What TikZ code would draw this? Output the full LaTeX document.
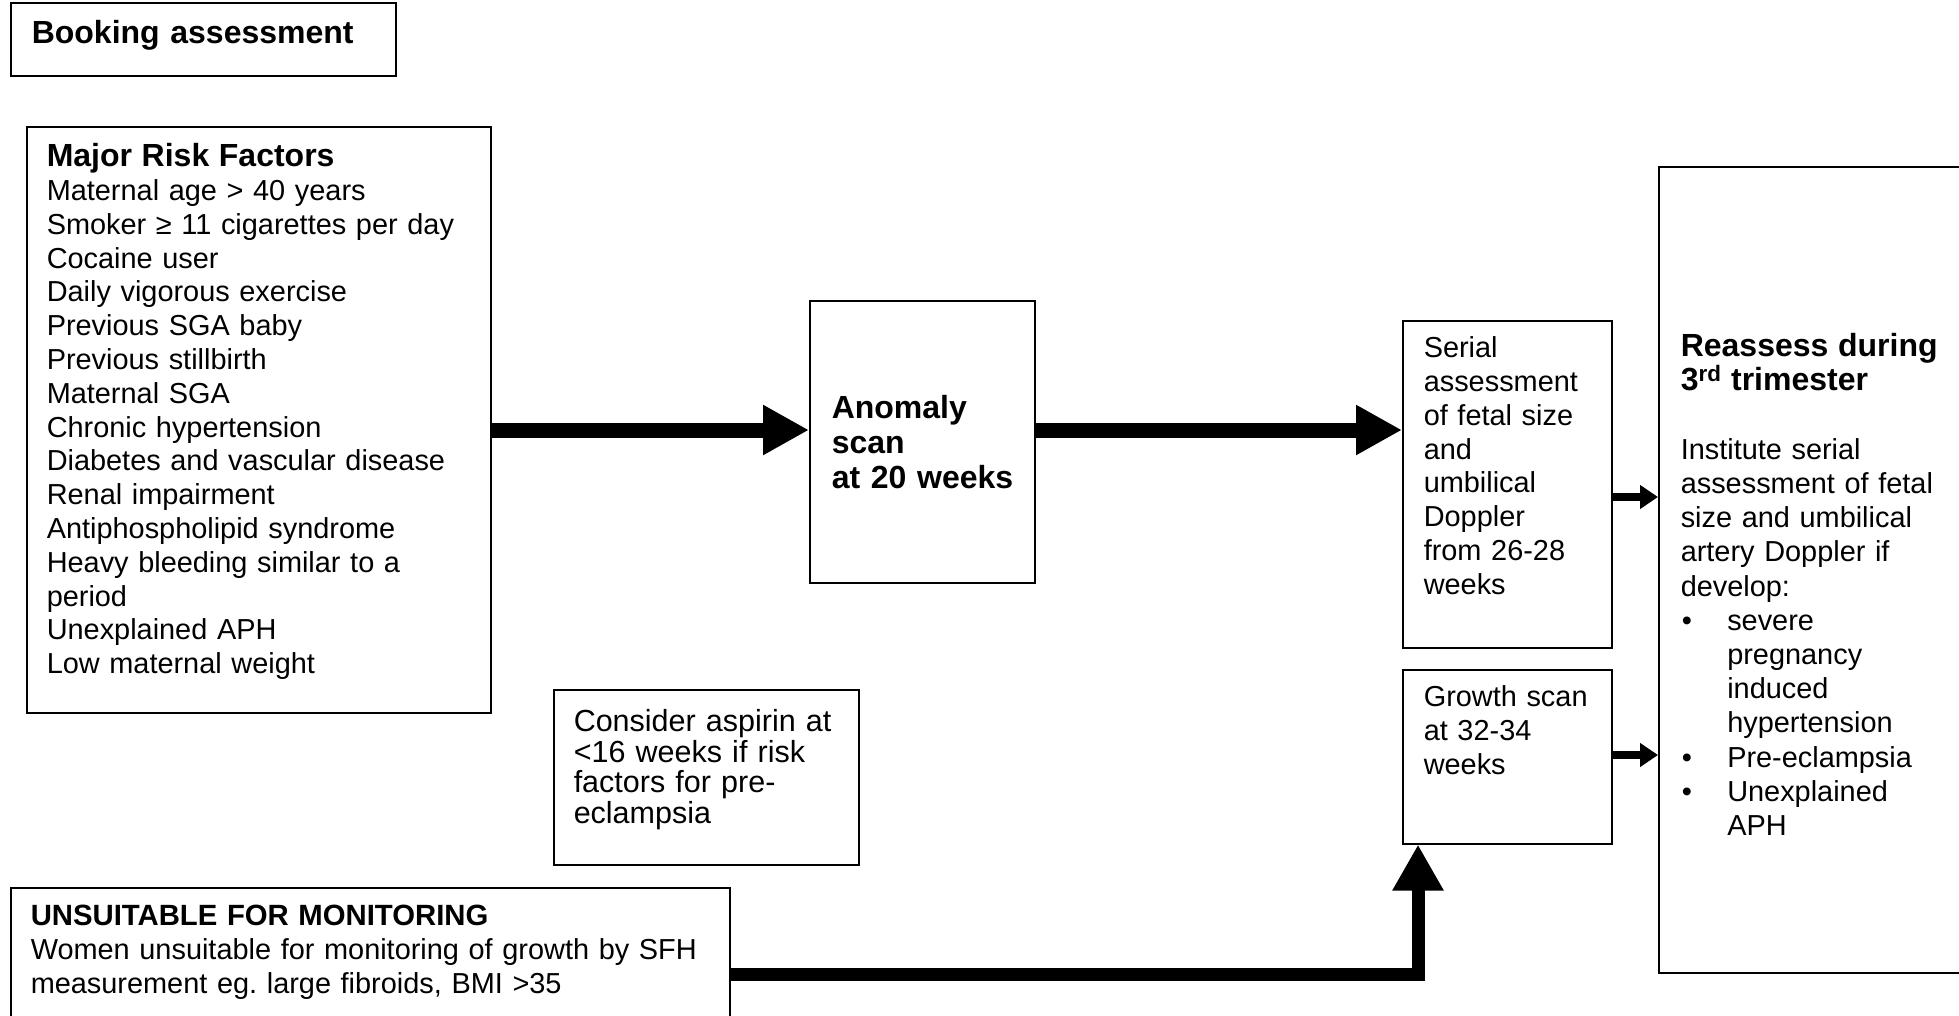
\documentclass[tikz,border=0pt]{standalone}
\usepackage{fontspec}
\setmainfont{Liberation Sans}
\usetikzlibrary{arrows.meta}

\newcommand{\bodyfont}{\fontsize{28.9}{33.8}\selectfont}
\newcommand{\headfont}{\fontsize{32}{35}\selectfont\bfseries}

\tikzset{
  box/.style={draw, line width=1.5pt, anchor=north west, align=left, inner ysep=0pt, inner xsep=20pt, font=\bodyfont},
  bigarrow/.style={line width=15pt, -{Triangle[length=46pt,width=47pt]}},
  smallarrow/.style={line width=8pt, -{Triangle[length=18pt,width=23pt]}},
}

\begin{document}
\begin{tikzpicture}[x=1pt,y=-1pt]
\useasboundingbox (0,0) rectangle (1959,1015);
\path[clip] (0,0) rectangle (1959,1015);

\node[box, font=\headfont, inner xsep=21pt, text width=343pt, text height=41pt, text depth=32pt] (booking) at (10,2) {Booking assessment};

\node[box, text width=424pt, text height=40pt, text depth=546pt] (risk) at (26,126)
  {{\headfont Major Risk Factors}\\
   Maternal age > 40 years\\
   Smoker ≥ 11 cigarettes per day\\
   Cocaine user\\
   Daily vigorous exercise\\
   Previous SGA baby\\
   Previous stillbirth\\
   Maternal SGA\\
   Chronic hypertension\\
   Diabetes and vascular disease\\
   Renal impairment\\
   Antiphospholipid syndrome\\
   Heavy bleeding similar to a\\
   period\\
   Unexplained APH\\
   Low maternal weight};

\node[box, font=\headfont, inner xsep=22pt, text width=181pt, text height=118pt, text depth=164pt] (anomaly) at (809,300)
  {Anomaly\\ scan\\ \mbox{at 20 weeks}};

\node[box, inner xsep=21pt, text width=167pt, text height=37pt, text depth=290pt] (serial) at (1402,320)
  {Serial\\ assessment\\ of fetal size\\ and\\ umbilical\\ Doppler\\ from 26-28\\ weeks};

\node[box, inner xsep=21pt, text width=167pt, text height=37pt, text depth=137pt] (growth) at (1402,669)
  {\mbox{Growth scan}\\ at 32-34\\ weeks};

\node[box, font={\fontsize{28.9}{34.2}\selectfont}, inner xsep=22pt, text width=288pt, text height=190pt, text depth=616pt] (reassess) at (1658,166)
  {{\headfont Reassess during\\ 3\textsuperscript{rd} trimester}\\[34.2pt]
   Institute serial\\
   assessment of fetal\\
   size and umbilical\\
   artery Doppler if\\
   develop:\\
   \hspace*{1pt}\makebox[45.5pt][l]{•}severe\\
   \hspace*{46.5pt}pregnancy\\
   \hspace*{46.5pt}induced\\
   \hspace*{46.5pt}hypertension\\
   \hspace*{1pt}\makebox[45.5pt][l]{•}Pre-eclampsia\\
   \hspace*{1pt}\makebox[45.5pt][l]{•}Unexplained\\
   \hspace*{46.5pt}APH};

\node[box, font={\fontsize{30.5}{30.5}\selectfont}, text width=265pt, text height=42pt, text depth=133pt] (aspirin) at (553,689)
  {\mbox{Consider aspirin at}\\ <16 weeks if risk\\ factors for pre-\\ eclampsia};

\node[box, text width=679pt, text height=38pt, text depth=162pt] (unsuitable) at (10,887)
  {{\headfont\fontsize{29.3}{33.8}\selectfont UNSUITABLE FOR MONITORING}\\
   Women unsuitable for monitoring of growth by SFH\\
   measurement eg.\ large fibroids, BMI >35};

\coordinate (midrow) at (0,430);
\coordinate (serialrow) at (0,497);
\coordinate (growthrow) at (0,755);
\coordinate (bend) at (1418,974);

\draw[bigarrow] (risk.east |- midrow) -- (anomaly.west |- midrow);
\draw[bigarrow] (anomaly.east |- midrow) -- (serial.west |- midrow);
\draw[smallarrow] (serial.east |- serialrow) -- (reassess.west |- serialrow);
\draw[smallarrow] (growth.east |- growthrow) -- (reassess.west |- growthrow);
\draw[line width=13pt, -{Triangle[length=46pt,width=48pt]}] (unsuitable.east |- bend) -- (bend) -- (bend |- growth.south);
\end{tikzpicture}
\end{document}
